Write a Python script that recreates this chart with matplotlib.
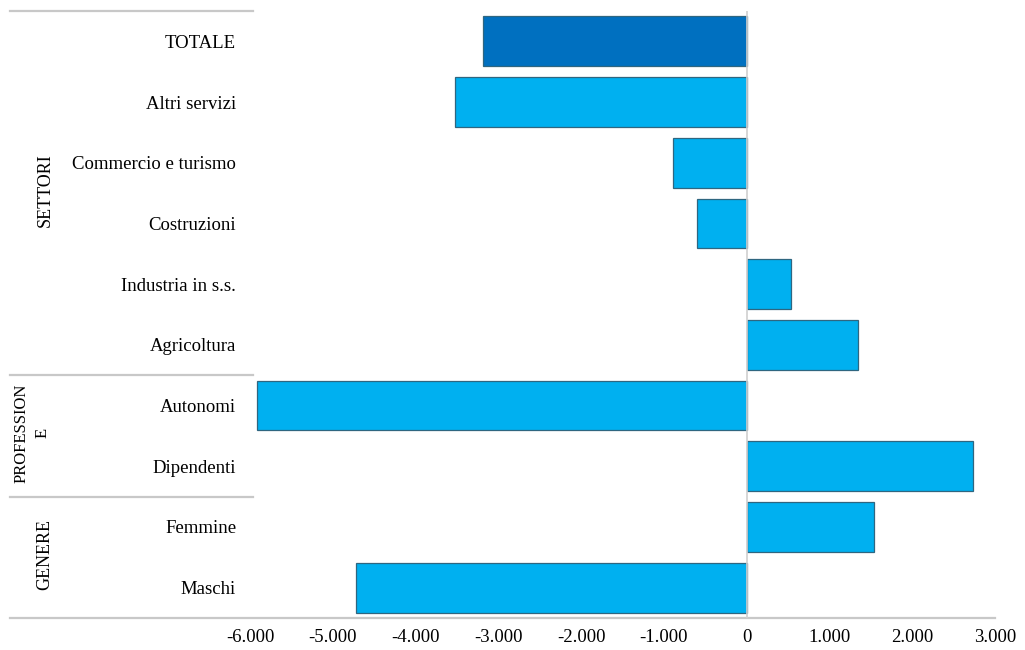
import matplotlib
matplotlib.use("Agg")
import matplotlib.pyplot as plt
from matplotlib.ticker import FuncFormatter
from matplotlib.transforms import blended_transform_factory

plt.rcParams['font.family'] = ['Liberation Serif', 'DejaVu Serif']

# Variazione occupati per settore, professione e genere
categories = ['TOTALE', 'Altri servizi', 'Commercio e turismo', 'Costruzioni',
              'Industria in s.s.', 'Agricoltura', 'Autonomi', 'Dipendenti',
              'Femmine', 'Maschi']
values = [-3180, -3520, -885, -595, 530, 1340, -5910, 2730, 1540, -4715]
bar_colors = ['#0070C0'] + ['#00B0F0'] * 9

# gruppi: (etichetta, prima riga, ultima riga)
groups = [('SETTORI', 0, 5), ('PROFESSION\nE', 6, 7), ('GENERE', 8, 9)]

W, H = 1025, 650
fig = plt.figure(figsize=(W / 100, H / 100), dpi=100)
left, right, top, bottom = 250, 995, 11, 618
ax = fig.add_axes([left / W, 1 - bottom / H, (right - left) / W, (bottom - top) / H])

y = list(range(len(categories)))
ax.barh(y, values, height=0.82, color=bar_colors, edgecolor='#2F6680',
        linewidth=0.9, zorder=3)

ax.set_xlim(-6000, 3000)
ax.set_ylim(len(categories) - 0.5, -0.5)
ax.set_xticks(range(-6000, 3001, 1000))
ax.xaxis.set_major_formatter(FuncFormatter(lambda v, p: f"{int(v):,}".replace(',', '.')))
ax.set_yticks(y)
ax.set_yticklabels(categories)
ax.tick_params(axis='y', length=0, pad=10, labelsize=13.5)
ax.tick_params(axis='x', length=0, pad=8, labelsize=13.5)
for s in ax.spines.values():
    s.set_visible(False)

ax.axvline(0, color='#D0D0D0', linewidth=1.2, zorder=4)

grey = '#C8C8C8'
tr = blended_transform_factory(fig.transFigure, ax.transData)
# linea di base lungo tutto il grafico
ax.plot([10 / W, 995 / W], [9.5, 9.5], transform=tr, color=grey,
        linewidth=1.6, clip_on=False)
# separatori tra i gruppi nella colonna delle etichette
for yy in [-0.5, 5.5, 7.5]:
    ax.plot([10 / W, 253 / W], [yy, yy], transform=tr, color=grey,
            linewidth=1.6, clip_on=False)

group_x = {'SETTORI': 45, 'PROFESSION\nE': 32, 'GENERE': 45}
for label, first, last in groups:
    size = 12 if '\n' in label else 13
    ax.text(group_x[label] / W, (first + last) / 2 - 0.05, label, transform=tr,
            rotation=90, ha='center', va='center', fontsize=size,
            linespacing=1.35, multialignment='center')

fig.savefig('out.png', dpi=100)
